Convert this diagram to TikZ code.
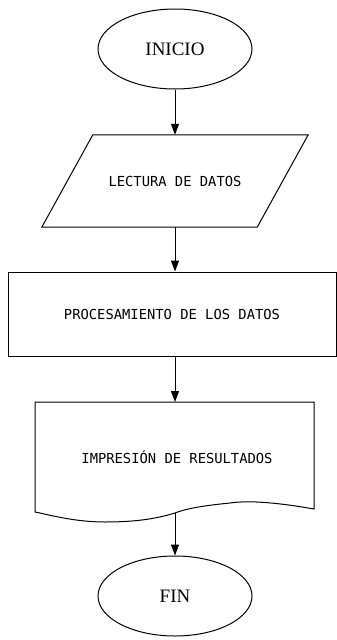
\documentclass[tikz,border=0pt]{standalone}
\usepackage{fontspec}
\setmainfont{Liberation Serif}
\newfontfamily\monof{DejaVu Sans Mono}
\usetikzlibrary{arrows.meta,shapes.geometric}
\tikzset{
  every picture/.style={x=1pt,y=-1pt},
  line/.style={line width=1pt,black},
  term/.style={ellipse,draw,line width=1pt,black,minimum width=154pt,minimum height=80pt,inner sep=0pt,font=\fontsize{19}{21}\selectfont},
  txt/.style={inner sep=0pt,font=\monof\fontsize{13.8}{15}\selectfont},
  proc/.style={txt,rectangle,draw,line width=1pt,black,minimum width=328pt,minimum height=84pt},
  arr/.style={line,-{Triangle[width=8pt,length=11pt]}}
}
\begin{document}
\begin{tikzpicture}
\useasboundingbox (0,0) rectangle (337,640);
\node[term] (ini) at (175,49) {INICIO};
\node[txt,minimum width=215pt,minimum height=92pt] (lec) at (175,181) {LECTURA DE DATOS};
\draw[line] ([xshift=25.5pt]lec.north west) -- ([xshift=25.5pt]lec.north east)
  -- ([xshift=-25.5pt]lec.south east) -- ([xshift=-25.5pt]lec.south west) -- cycle;
\node[proc] (pro) at (172,314) {PROCESAMIENTO DE LOS DATOS};
\node[txt] (imp) at (177,457) {IMPRESIÓN DE RESULTADOS};
\coordinate (doctop) at (175,402);
\coordinate (docbot) at (175,513);
\draw[line] (35,402) -- (314,402) -- (314,509)
  .. controls (280,503) and (250,500) .. (230,503)
  .. controls (200,506) and (185,509) .. (docbot)
  .. controls (155,519) and (135,522) .. (105,522)
  .. controls (75,522) and (50,515) .. (35,512) -- cycle;
\node[term] (fin) at (175,596) {FIN};
\draw[arr] (ini) -- (lec);
\draw[arr] (lec) -- (pro.north -| lec);
\draw[arr] (pro.south -| lec) -- (doctop);
\draw[arr] (docbot) -- (fin);
\end{tikzpicture}
\end{document}
